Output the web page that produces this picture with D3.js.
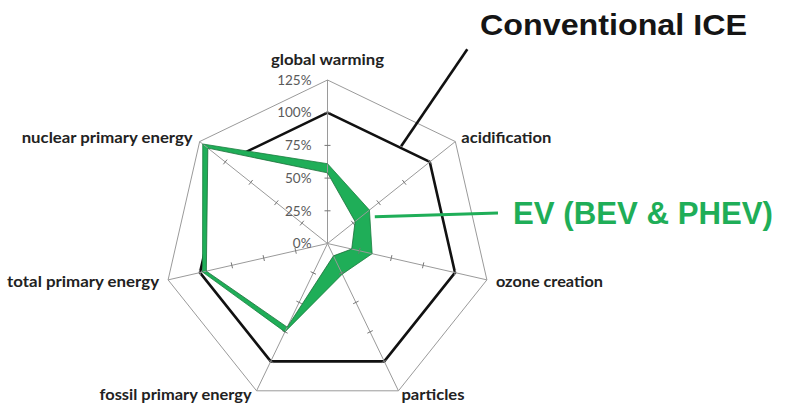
<!DOCTYPE html>
<html><head><meta charset="utf-8">
<script src="https://cdn.jsdelivr.net/npm/d3@7"></script>
<style>html,body{margin:0;padding:0;background:#fff;}svg{display:block;}</style>
</head><body>
<svg id="c" width="785" height="406"></svg>
<script>
const categories = ["global warming","acidification","ozone creation","particles","fossil primary energy","total primary energy","nuclear primary energy"];
const iceValues  = [100,100,100,100,100,100,100];
const evHigh     = [61,41,35,26,75,98,122];
const evLow      = [54,27,19,10.5,71,95,117];
const tickValues = [0,25,50,75,100,125];
const tickLabels = ["0%","25%","50%","75%","100%","125%"];
const seriesNames = ["Conventional ICE","EV (BEV & PHEV)"];

const W=785,H=406, cx=327.5, cy=243.5, R=163.5;
const svg=d3.select("#c");
const g=svg.append("g").attr("transform",`translate(${cx},${cy})`);
const n=categories.length;
const ang=d3.scaleLinear().domain([0,n]).range([0,2*Math.PI]);
const r=d3.scaleLinear().domain([0,125]).range([0,R]);
const pt=(i,v)=>[r(v)*Math.sin(ang(i)), -r(v)*Math.cos(ang(i))];
const radial=d3.lineRadial().angle((d,i)=>ang(i)).radius(d=>r(d)).curve(d3.curveLinearClosed);

const GREEN="#1fae58", GRAY="#9a9a9a";

// outer ring
g.append("path").attr("d",radial(categories.map(()=>125))).attr("fill","none").attr("stroke",GRAY).attr("stroke-width",1);

// ICE line
g.append("path").attr("d",radial(iceValues)).attr("fill","none").attr("stroke","#111").attr("stroke-width",2.6).attr("stroke-linejoin","miter");

// EV band
g.append("path").attr("d",radial(evHigh)).attr("fill",GREEN).attr("stroke","none");
g.append("path").attr("d",radial(evLow)).attr("fill","#fff").attr("stroke","none");

// axes with ticks
categories.forEach((c,i)=>{
  const a=ang(i);
  const e=pt(i,125);
  g.append("line").attr("x1",0).attr("y1",0).attr("x2",e[0]).attr("y2",e[1]).attr("stroke",GRAY).attr("stroke-width",1);
  tickValues.slice(1,5).forEach(v=>{
    const p=pt(i,v), px=Math.cos(a)*3, py=Math.sin(a)*3;
    g.append("line").attr("x1",p[0]-px).attr("y1",p[1]-py).attr("x2",p[0]+px).attr("y2",p[1]+py).attr("stroke","#777").attr("stroke-width",1);
  });
});

// band outlines
g.append("path").attr("d",radial(evHigh)).attr("fill","none").attr("stroke","#1a7d3f").attr("stroke-width",0.8);
g.append("path").attr("d",radial(evLow)).attr("fill","none").attr("stroke","#1a6e38").attr("stroke-width",0.8);

// percentage labels
tickValues.forEach((v,k)=>{
  g.append("text").attr("x",-16).attr("y",-r(v)).attr("dy","0.35em").attr("text-anchor","end")
   .attr("font-family","Lato, 'Open Sans', sans-serif").attr("font-size",13.5).attr("fill","#5a5a5a").text(tickLabels[k]);
});

// category labels
const lab=[
  {dx:0,dy:-15,anchor:"middle",w:113},
  {dx:6,dy:1,anchor:"start",w:90},
  {dx:9,dy:7,anchor:"start",w:107},
  {dx:3,dy:9,anchor:"start",w:63},
  {dx:-5,dy:9,anchor:"end",w:152},
  {dx:-9,dy:7,anchor:"end",w:152},
  {dx:-7,dy:1.5,anchor:"end",w:171}
];
categories.forEach((c,i)=>{
  const p=pt(i,125), L=lab[i];
  g.append("text").attr("x",p[0]+L.dx).attr("y",p[1]+L.dy).attr("text-anchor",L.anchor)
   .attr("font-family","Lato, 'Open Sans', sans-serif").attr("font-weight",700).attr("font-size",15)
   .attr("fill","#222").attr("textLength",L.w).attr("lengthAdjust","spacingAndGlyphs").text(c);
});

// callouts
const a0=pt(0,iceValues[0]), a1=pt(1,iceValues[1]);
const bs=[a0[0]+(a1[0]-a0[0])*0.72, a0[1]+(a1[1]-a0[1])*0.72];
g.append("line").attr("x1",bs[0]).attr("y1",bs[1]-2).attr("x2",467.3-cx).attr("y2",49.3-cy).attr("stroke","#111").attr("stroke-width",2.6);
svg.append("text").attr("x",480).attr("y",35).attr("font-family","'Liberation Sans', Arial, sans-serif").attr("font-weight",700)
  .attr("font-size",30).attr("fill","#151515").attr("textLength",267).attr("lengthAdjust","spacingAndGlyphs").text(seriesNames[0]);

const e1=pt(1,evHigh[1]), e2=pt(2,evHigh[2]);
const gs=[e1[0]+(e2[0]-e1[0])*0.14, e1[1]+(e2[1]-e1[1])*0.14];
g.append("line").attr("x1",gs[0]+5).attr("y1",gs[1]+0.5).attr("x2",498-cx).attr("y2",213-cy).attr("stroke",GREEN).attr("stroke-width",3);
svg.append("text").attr("x",513).attr("y",223.5).attr("font-family","'Liberation Sans', Arial, sans-serif").attr("font-weight",700)
  .attr("font-size",32).attr("fill",GREEN).attr("textLength",260).attr("lengthAdjust","spacingAndGlyphs").text(seriesNames[1]);
</script>
</body></html>
